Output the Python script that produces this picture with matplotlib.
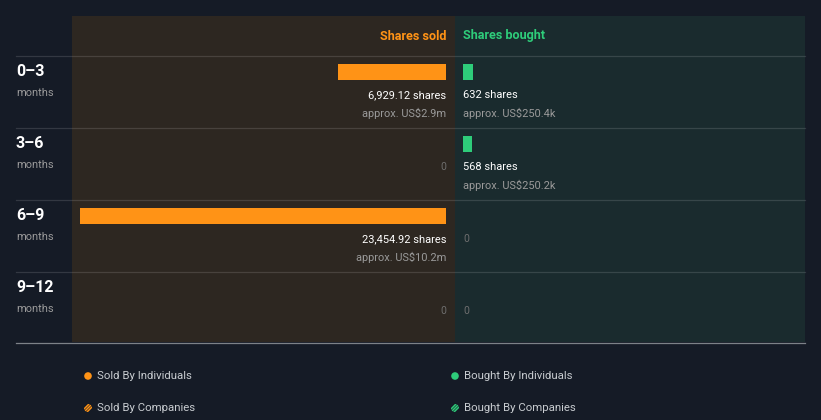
import matplotlib
matplotlib.use("Agg")
import matplotlib.pyplot as plt
from matplotlib.patches import Circle

plt.rcParams['font.family'] = ['Roboto', 'DejaVu Sans']

# data
periods = ['0–3', '3–6', '6–9', '9–12']
sold_shares = [6929.12, 0, 23454.92, 0]
sold_value = ['approx. US$2.9m', '', 'approx. US$10.2m', '']
bought_shares = [632, 568, 0, 0]
bought_value = ['approx. US$250.4k', 'approx. US$250.2k', '', '']
legend_labels = ['Sold By Individuals', 'Bought By Individuals',
                 'Sold By Companies', 'Bought By Companies']

BG = '#151b26'
SOLD_BG = '#2d2721'
BOUGHT_BG = '#1a2b2e'
ORANGE = '#ff9316'
GREEN = '#2ecc7a'
WHITE = '#ffffff'
GREY = '#9a9a9a'
ZERO = '#6e6e6e'

W, H = 821, 420
fig = plt.figure(figsize=(W / 100, H / 100), dpi=100, facecolor=BG)

def px_axes(x0, y0, x1, y1):
    return fig.add_axes([x0 / W, 1 - y1 / H, (x1 - x0) / W, (y1 - y0) / H])

# shares -> pixel scale (largest bar spans 80..446 px)
max_sh = max(sold_shares)
scale = (446 - 80) / max_sh
ytop = -40 / 72
ybot = (342 - 56) / 72

# sold panel
ax_s = px_axes(72, 16, 455, 342)
ax_s.set_facecolor(SOLD_BG)
ax_s.set_xlim((446 - 72) / scale, -(455 - 446) / scale)
ax_s.set_ylim(ybot, ytop)
ax_s.barh([i + 16 / 72 for i in range(4)], sold_shares, height=16 / 72,
          color=ORANGE, left=0)
# bought panel
ax_b = px_axes(455, 16, 805, 342)
ax_b.set_facecolor(BOUGHT_BG)
ax_b.set_xlim(-(463 - 455) / scale, (805 - 463) / scale)
ax_b.set_ylim(ybot, ytop)
ax_b.barh([i + 16 / 72 for i in range(4)], bought_shares, height=16 / 72,
          color=GREEN, left=0)

for ax in (ax_s, ax_b):
    ax.set_xticks([])
    ax.set_yticks([])
    for s in ax.spines.values():
        s.set_visible(False)

ax_s.text(0, -20 / 72, 'Shares sold', color=ORANGE, fontsize=9.1,
          fontweight='bold', ha='right', va='center')
ax_b.text(0, -20 / 72, 'Shares bought', color=GREEN, fontsize=9.1,
          fontweight='bold', ha='left', va='center')

for i in range(4):
    if sold_shares[i] > 0:
        ax_s.text(0, i + 39 / 72, f'{sold_shares[i]:,.2f} shares', color=WHITE,
                  fontsize=7.9, ha='right', va='center')
        ax_s.text(0, i + 57 / 72, sold_value[i], color=GREY,
                  fontsize=7.9, ha='right', va='center')
    else:
        ax_s.text(0, i + 39 / 72, '0', color=ZERO, fontsize=7.5,
                  ha='right', va='center')
    if bought_shares[i] > 0:
        ax_b.text(0, i + 39 / 72, f'{bought_shares[i]:,} shares', color=WHITE,
                  fontsize=7.9, ha='left', va='center')
        ax_b.text(0, i + 57 / 72, bought_value[i], color=GREY,
                  fontsize=7.9, ha='left', va='center')
    else:
        ax_b.text(0, i + 39 / 72, '0', color=ZERO, fontsize=7.5,
                  ha='left', va='center')

# overlay in pixel coordinates
ov = px_axes(0, 0, W, H)
ov.set_xlim(0, W)
ov.set_ylim(H, 0)
ov.axis('off')
ov.patch.set_alpha(0)

for i, p in enumerate(periods):
    y = 56 + 72 * i
    ov.plot([16, 805], [y, y], color='#ffffff', alpha=0.13, lw=0.9)
    ov.text(16, y + 15, p, color=WHITE, fontsize=11.5, fontweight='bold',
            ha='left', va='center')
    ov.text(16, y + 37, 'months', color=GREY, fontsize=7.9,
            ha='left', va='center')
ov.plot([16, 805], [343, 343], color='#7d8288', lw=0.9)

leg_pos = [(88, 376), (455, 376), (88, 408), (455, 408)]
leg_col = [ORANGE, GREEN, ORANGE, GREEN]
for k, (lab, (x, y), c) in enumerate(zip(legend_labels, leg_pos, leg_col)):
    if k < 2:
        ov.add_patch(Circle((x, y), 3.8, facecolor=c, edgecolor='none'))
    else:
        clip = Circle((x, y), 4.0, facecolor='none', edgecolor='none')
        ov.add_patch(clip)
        for d in (-3, 0, 3):
            ln, = ov.plot([x + d - 5, x + d + 5], [y + 5, y - 5], color=c, lw=1.1)
            ln.set_clip_path(clip)
    ov.text(x + 9, y, lab, color='#c8ccd0', fontsize=8.2, ha='left', va='center')

fig.savefig('out.png', dpi=100, facecolor=BG)
